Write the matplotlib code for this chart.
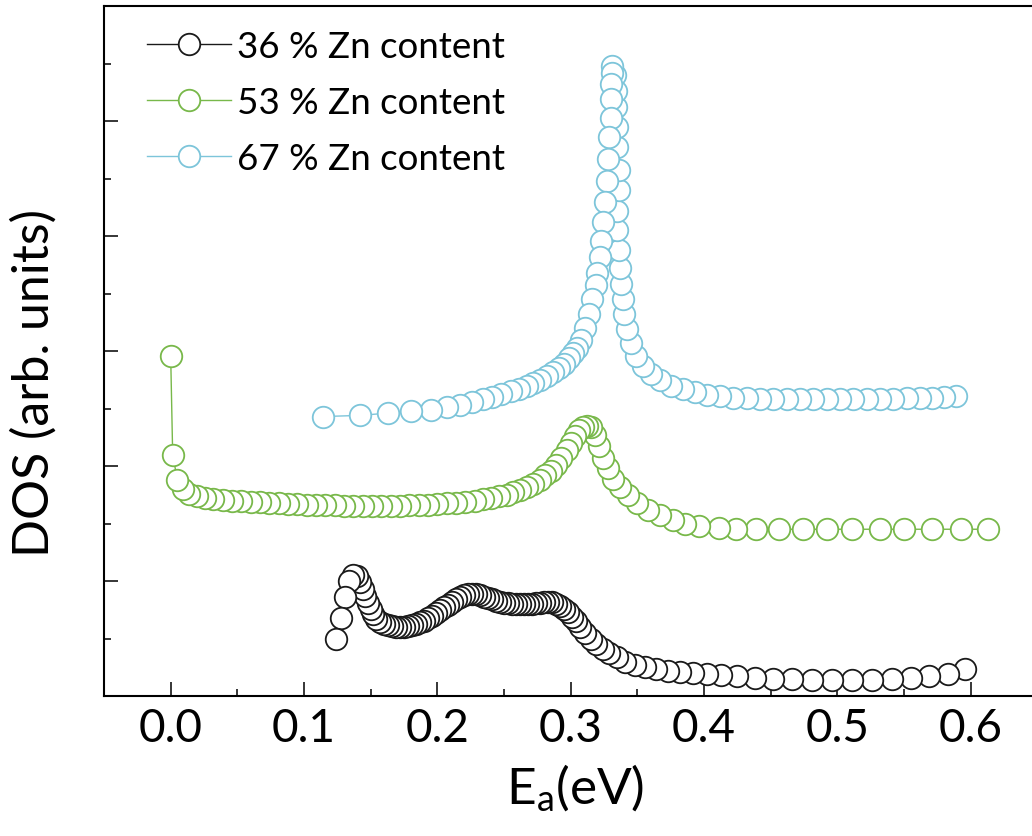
import matplotlib
matplotlib.use('Agg')
import matplotlib.pyplot as plt
from matplotlib.ticker import MultipleLocator

plt.rcParams['font.family'] = ['Lato', 'DejaVu Sans']
plt.rcParams['mathtext.default'] = 'regular'

# 36 % Zn content
zn36_e = [0.124, 0.128, 0.131, 0.134, 0.137, 0.140, 0.142, 0.144, 0.146, 0.148,
          0.150, 0.152, 0.154, 0.157, 0.160, 0.163, 0.166, 0.169, 0.172, 0.175,
          0.178, 0.181, 0.184, 0.187, 0.190, 0.193, 0.196, 0.199, 0.202, 0.205,
          0.208, 0.211, 0.214, 0.217, 0.220, 0.223, 0.226, 0.229, 0.232, 0.235,
          0.238, 0.241, 0.244, 0.247, 0.250, 0.253, 0.256, 0.259, 0.262, 0.265,
          0.268, 0.271, 0.274, 0.277, 0.280, 0.283, 0.286, 0.289, 0.292, 0.295,
          0.298, 0.301, 0.304, 0.307, 0.311, 0.315, 0.319, 0.324, 0.329, 0.335,
          0.341, 0.348, 0.356, 0.364, 0.373, 0.382, 0.392, 0.402, 0.413, 0.425,
          0.438, 0.452, 0.466, 0.481, 0.496, 0.511, 0.526, 0.541, 0.555, 0.569,
          0.583, 0.596]
zn36_dos = [0.50, 0.68, 0.86, 1.00, 1.05, 1.04, 0.99, 0.93, 0.87, 0.81,
            0.76, 0.71, 0.67, 0.645, 0.63, 0.615, 0.605, 0.60, 0.60, 0.60,
            0.605, 0.615, 0.625, 0.64, 0.655, 0.675, 0.70, 0.72, 0.745, 0.77,
            0.795, 0.82, 0.84, 0.86, 0.875, 0.885, 0.89, 0.885, 0.875, 0.865,
            0.85, 0.84, 0.83, 0.82, 0.81, 0.805, 0.80, 0.80, 0.80, 0.80,
            0.80, 0.80, 0.805, 0.81, 0.815, 0.815, 0.815, 0.80, 0.785, 0.76,
            0.73, 0.69, 0.65, 0.60, 0.55, 0.50, 0.455, 0.41, 0.375, 0.34,
            0.30, 0.27, 0.25, 0.235, 0.22, 0.21, 0.20, 0.19, 0.18, 0.17,
            0.16, 0.15, 0.145, 0.14, 0.135, 0.135, 0.14, 0.145, 0.155, 0.17,
            0.195, 0.235]

# 53 % Zn content
zn53_e = [0.000, 0.0015, 0.005, 0.009, 0.014, 0.020, 0.026, 0.032, 0.039, 0.046,
          0.053, 0.060, 0.067, 0.074, 0.081, 0.088, 0.095, 0.102, 0.109, 0.116,
          0.123, 0.130, 0.137, 0.144, 0.151, 0.158, 0.165, 0.172, 0.179, 0.186,
          0.193, 0.200, 0.207, 0.214, 0.221, 0.228, 0.234, 0.240, 0.246, 0.252,
          0.257, 0.262, 0.267, 0.272, 0.277, 0.281, 0.285, 0.289, 0.293, 0.297,
          0.300, 0.303, 0.306, 0.309, 0.312, 0.315, 0.318, 0.321, 0.324, 0.328,
          0.332, 0.337, 0.343, 0.350, 0.358, 0.367, 0.377, 0.386, 0.396, 0.411,
          0.424, 0.439, 0.456, 0.474, 0.492, 0.511, 0.532, 0.550, 0.571, 0.593,
          0.613]
zn53_dos = [2.96, 2.10, 1.88, 1.80, 1.76, 1.74, 1.725, 1.715, 1.705, 1.70,
            1.695, 1.69, 1.685, 1.68, 1.675, 1.67, 1.67, 1.665, 1.665, 1.66,
            1.66, 1.655, 1.655, 1.655, 1.655, 1.655, 1.655, 1.655, 1.66, 1.66,
            1.665, 1.67, 1.675, 1.68, 1.69, 1.70, 1.71, 1.72, 1.735, 1.75,
            1.77, 1.79, 1.815, 1.845, 1.88, 1.92, 1.96, 2.01, 2.07, 2.14,
            2.20, 2.26, 2.31, 2.34, 2.35, 2.34, 2.27, 2.17, 2.07, 1.98,
            1.89, 1.82, 1.75, 1.68, 1.62, 1.57, 1.53, 1.50, 1.475, 1.46,
            1.455, 1.45, 1.45, 1.45, 1.45, 1.45, 1.45, 1.45, 1.45, 1.45,
            1.45]

# 67 % Zn content
zn67_e = [0.114, 0.142, 0.163, 0.180, 0.195, 0.207, 0.217, 0.226, 0.234, 0.241,
          0.248, 0.255, 0.261, 0.267, 0.272, 0.277, 0.282, 0.287, 0.291, 0.295,
          0.299, 0.302, 0.305, 0.308, 0.311, 0.314, 0.316, 0.319, 0.320, 0.322,
          0.323, 0.324, 0.326, 0.327, 0.328, 0.329, 0.330, 0.330, 0.330, 0.331,
          0.331, 0.333, 0.334, 0.334, 0.335, 0.335, 0.336, 0.336, 0.335, 0.335,
          0.336, 0.337, 0.338, 0.339, 0.340, 0.342, 0.345, 0.349, 0.354, 0.360,
          0.367, 0.375, 0.384, 0.393, 0.402, 0.412, 0.422, 0.432, 0.442, 0.452,
          0.462, 0.472, 0.482, 0.492, 0.502, 0.512, 0.522, 0.532, 0.542, 0.552,
          0.562, 0.571, 0.580, 0.589]
zn67_dos = [2.43, 2.44, 2.46, 2.475, 2.49, 2.51, 2.53, 2.555, 2.58, 2.60,
            2.625, 2.65, 2.67, 2.695, 2.72, 2.75, 2.78, 2.815, 2.85, 2.89,
            2.935, 2.98, 3.03, 3.10, 3.20, 3.32, 3.45, 3.57, 3.68, 3.82,
            3.96, 4.12, 4.30, 4.48, 4.67, 4.86, 5.03, 5.19, 5.32, 5.42,
            5.48, 5.40, 5.26, 5.12, 4.95, 4.77, 4.57, 4.40, 4.22, 4.05,
            3.88, 3.72, 3.58, 3.45, 3.32, 3.19, 3.07, 2.96, 2.87, 2.80,
            2.75, 2.70, 2.67, 2.64, 2.62, 2.605, 2.595, 2.59, 2.585, 2.58,
            2.58, 2.58, 2.58, 2.58, 2.58, 2.58, 2.58, 2.585, 2.585, 2.59,
            2.59, 2.595, 2.60, 2.61]

labels = ['36 % Zn content', '53 % Zn content', '67 % Zn content']
colors = ['#1a1a1a', '#78b84a', '#7dc5da']
xticks = [0.0, 0.1, 0.2, 0.3, 0.4, 0.5, 0.6]
xticklabels = ['0.0', '0.1', '0.2', '0.3', '0.4', '0.5', '0.6']

fig = plt.figure(figsize=(10.32, 8.37), dpi=100)
ax = fig.add_axes([104 / 1032, 140 / 837, 933.5 / 1032, 690 / 837])

series = [(zn36_e, zn36_dos), (zn53_e, zn53_dos), (zn67_e, zn67_dos)]
for (e, d), c, lab in zip(series, colors, labels):
    ax.plot(e[::-1], d[::-1], '-o', color=c, lw=1.0, ms=15.5, mew=1.3,
            mfc='white', mec=c, label=lab)

ax.set_xlim(-0.05, 0.65)
ax.set_ylim(0, 6)
ax.set_xticks(xticks)
ax.set_xticklabels(xticklabels)
ax.xaxis.set_minor_locator(MultipleLocator(0.05))
ax.yaxis.set_major_locator(MultipleLocator(1))
ax.yaxis.set_minor_locator(MultipleLocator(0.5))
ax.tick_params(which='both', direction='in', width=1.1, top=False, right=False)
ax.tick_params(which='major', length=10, labelsize=33, pad=8)
ax.tick_params(which='minor', length=5)
ax.tick_params(axis='y', labelleft=False)
for s in ax.spines.values():
    s.set_linewidth(1.5)

ax.set_xlabel(r'E$_{a}$(eV)', fontsize=37)
ax.xaxis.set_label_coords(0.505, -0.095)
ax.set_ylabel('DOS (arb. units)', fontsize=36)
ax.yaxis.set_label_coords(-0.05, 0.455)

ax.legend(loc='upper left', frameon=False, fontsize=26.5, handlelength=2.3,
          handletextpad=0.15, labelspacing=0.62, borderaxespad=0.25,
          bbox_to_anchor=(0.02, 1.0))

fig.savefig('out.png', dpi=100)
